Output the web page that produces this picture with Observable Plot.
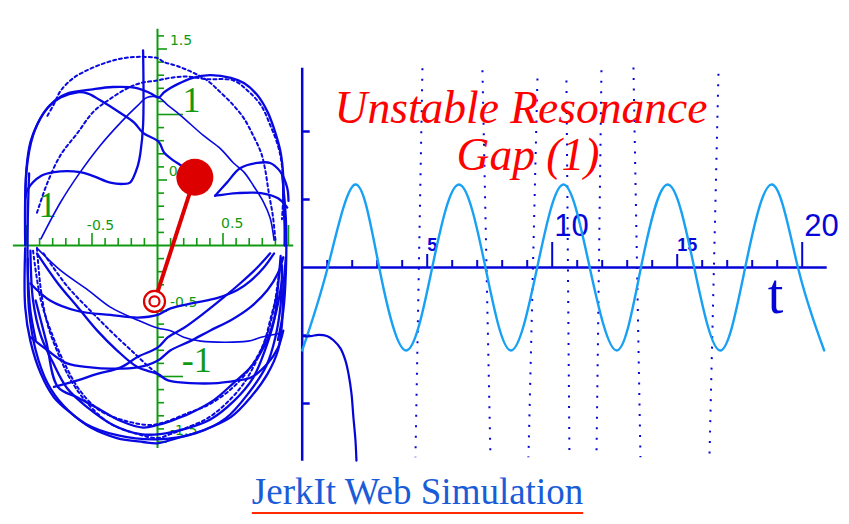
<!DOCTYPE html>
<html>
<head>
<meta charset="utf-8">
<script src="https://cdn.jsdelivr.net/npm/d3@7"></script>
<script src="https://cdn.jsdelivr.net/npm/@observablehq/plot@0.6"></script>
<style>
  html, body { margin: 0; padding: 0; background: #fff; }
  #wrap { position: relative; width: 849px; height: 524px; overflow: hidden; background: #fff; }
  #swing { position: absolute; left: 0; top: 0; }
  #trace { position: absolute; left: 290px; top: 0; }
  .title {
    position: absolute; white-space: nowrap; transform: translateX(-50%);
    font-family: "Liberation Serif", "Times New Roman", serif; font-style: italic;
    font-size: 45.5px; line-height: 45.5px; color: #f00;
  }
  .caption {
    position: absolute; left: 0; width: 835px; top: 473px; text-align: center;
    font-family: "Liberation Serif", "Times New Roman", serif;
    font-size: 37px; line-height: 37px; color: #1a5cd8;
    text-decoration: underline; text-decoration-color: #ff2a00;
    text-decoration-thickness: 2px; text-underline-offset: 8px;
  }
</style>
</head>
<body>
<div id="wrap">
  <div id="swing"></div>
  <div id="trace"></div>
  <div class="title" style="left:521px; top:85px;">Unstable Resonance</div>
  <div class="title" style="left:528px; top:132px;">Gap (1)</div>
  <div class="caption">JerkIt Web Simulation</div>
</div>
<script>
// ---------- Bob path in the pivot frame (units of rod length) ----------
const arcToBob = [[-1.01,0.04],[-1.00,0.59],[-0.97,0.79],[-0.92,0.92],[-0.84,1.05],[-0.74,1.13],[-0.61,1.17],[-0.53,1.16],[-0.44,1.11],[-0.28,1.01],[-0.18,0.94],[-0.11,0.86],[0.01,0.79],[0.05,0.71],[0.12,0.65],[0.18,0.61],[0.28,0.52]];
const topArc = [[-1.01,0.0],[-1.00,0.57],[-0.95,0.84],[-0.87,1.01],[-0.78,1.11],[-0.69,1.16],[-0.51,1.19],[-0.34,1.21],[-0.15,1.20],[-0.05,1.16],[0.01,1.13],[0.05,1.17],[0.15,1.23],[0.27,1.28],[0.40,1.30],[0.56,1.28],[0.66,1.24],[0.76,1.15],[0.84,1.02],[0.90,0.86],[0.94,0.71],[0.96,0.53],[0.96,0.36],[0.97,0.15],[0.97,0.0]];
const highArc = [[-0.84,0.99],[-0.79,1.08],[-0.74,1.18],[-0.64,1.28],[-0.51,1.35],[-0.38,1.40],[-0.26,1.43],[-0.13,1.44],[0.0,1.43],[0.05,1.40],[0.15,1.37],[0.27,1.32],[0.38,1.26],[0.48,1.17],[0.58,1.07],[0.66,0.97],[0.73,0.84],[0.79,0.71],[0.82,0.59],[0.85,0.40],[0.88,0.23],[0.90,0.04]];
const innerArc = [[-0.92,0.25],[-0.84,0.48],[-0.74,0.69],[-0.61,0.86],[-0.49,1.02],[-0.36,1.12],[-0.23,1.20],[-0.13,1.24],[0.0,1.26],[0.10,1.28],[0.23,1.29],[0.37,1.27],[0.58,1.26],[0.69,1.18],[0.79,1.07],[0.86,0.92],[0.92,0.76],[0.95,0.61],[0.96,0.40],[0.95,0.20]];
const crossArc = [[-0.89,0.05],[-0.74,0.33],[-0.59,0.56],[-0.44,0.76],[-0.28,0.94],[-0.15,1.07],[-0.08,1.13],[0.01,1.13],[0.08,1.07],[0.18,0.99],[0.35,0.84],[0.48,0.74],[0.58,0.63],[0.66,0.56],[0.73,0.46],[0.81,0.33],[0.86,0.21],[0.89,0.04]];
const hookDrop = [[-0.11,1.49],[-0.11,0.92],[-0.13,0.71],[-0.15,0.61],[-0.21,0.48],[-0.26,0.47],[-0.36,0.48],[-0.49,0.53],[-0.59,0.56],[-0.79,0.56],[-0.89,0.53],[-0.99,0.43],[-1.01,0.36]];
const loopUpper = [[0.44,0.38],[0.53,0.48],[0.63,0.59],[0.76,0.63],[0.86,0.63],[0.94,0.56],[0.99,0.44],[1.0,0.34]];
const loopLower = [[0.44,0.38],[0.61,0.40],[0.79,0.40],[0.92,0.36],[0.99,0.29]];
const leftEdge = [[-0.98,0.55],[-0.99,0.20],[-0.99,-0.20],[-0.97,-0.50],[-0.93,-0.72]];
const rightEdge = [[0.95,0.55],[0.98,0.20],[0.98,-0.20],[0.96,-0.50],[0.92,-0.72]];
const bowlOuter = [[-1.01,-0.02],[-1.01,-0.47],[-0.97,-0.73],[-0.89,-0.98],[-0.79,-1.16],[-0.66,-1.28],[-0.51,-1.39],[-0.31,-1.47],[-0.11,-1.50],[0.0,-1.51],[0.15,-1.47],[0.35,-1.41],[0.56,-1.31],[0.71,-1.16],[0.84,-0.98],[0.92,-0.80],[0.95,-0.60],[0.96,-0.34],[0.98,-0.09]];
const bowlEdge = [[-0.99,-0.10],[-0.98,-0.50],[-0.93,-0.80],[-0.84,-1.05],[-0.72,-1.22],[-0.55,-1.36],[-0.30,-1.45],[0.0,-1.48],[0.30,-1.43],[0.52,-1.32],[0.70,-1.12],[0.83,-0.92],[0.90,-0.70],[0.94,-0.45],[0.95,-0.15]];
const bowlDotted = [[-0.92,-0.02],[-0.89,-0.34],[-0.84,-0.60],[-0.76,-0.82],[-0.66,-1.03],[-0.53,-1.21],[-0.36,-1.36],[-0.15,-1.44],[0.0,-1.47],[0.10,-1.44],[0.20,-1.40],[0.38,-1.32],[0.53,-1.20],[0.66,-1.05],[0.76,-0.87],[0.84,-0.67],[0.89,-0.47],[0.92,-0.27],[0.95,-0.09]];
const bowlInner = [[-0.97,-0.04],[-0.95,-0.42],[-0.89,-0.69],[-0.80,-0.89],[-0.69,-1.09],[-0.53,-1.24],[-0.34,-1.37],[-0.13,-1.44],[0.02,-1.44],[0.21,-1.40],[0.40,-1.33],[0.58,-1.19],[0.73,-1.01],[0.82,-0.80],[0.89,-0.57],[0.92,-0.31],[0.94,-0.08]];
const bowlMid = [[-0.93,-0.42],[-0.85,-0.73],[-0.76,-1.08],[-0.61,-1.16],[-0.46,-1.24],[-0.28,-1.34],[-0.11,-1.39],[0.0,-1.37],[0.10,-1.34],[0.25,-1.28],[0.43,-1.18],[0.58,-1.05],[0.71,-0.93],[0.82,-0.76],[0.90,-0.53],[0.95,-0.27]];
const bowlDotted2 = [[-0.95,-0.04],[-0.89,-0.42],[-0.80,-0.69],[-0.70,-0.92],[-0.59,-1.11],[-0.44,-1.26],[-0.24,-1.34],[-0.05,-1.37],[0.05,-1.35],[0.23,-1.28],[0.40,-1.21],[0.58,-1.08],[0.71,-0.93],[0.81,-0.75],[0.86,-0.57],[0.92,-0.34]];
const sweepA = [[-0.92,-0.02],[-0.74,-0.19],[-0.53,-0.34],[-0.36,-0.47],[-0.15,-0.57],[0.0,-0.63],[0.10,-0.65],[0.20,-0.70],[0.33,-0.73],[0.69,-0.73],[0.79,-0.70],[0.94,-0.67]];
const sweepB = [[-0.97,-0.29],[-0.82,-0.42],[-0.61,-0.50],[-0.36,-0.53],[-0.15,-0.55],[0.0,-0.53],[0.10,-0.48],[0.27,-0.44],[0.46,-0.40],[0.61,-0.34],[0.71,-0.27],[0.81,-0.17],[0.89,-0.06]];
const sweepC = [[-0.92,-0.06],[-0.76,-0.29],[-0.61,-0.47],[-0.46,-0.65],[-0.31,-0.80],[-0.15,-0.93],[0.0,-0.98],[0.08,-1.03],[0.25,-1.05],[0.46,-1.05],[0.61,-1.03],[0.71,-1.01],[0.84,-0.90],[0.92,-0.78],[0.96,-0.65]];
const sweepD = [[-0.97,-0.70],[-0.84,-0.80],[-0.69,-0.90],[-0.51,-0.93],[-0.36,-0.94],[-0.15,-0.93],[0.0,-0.88],[0.10,-0.80],[0.25,-0.73],[0.40,-0.65],[0.56,-0.57],[0.71,-0.47],[0.84,-0.34],[0.92,-0.21],[0.96,-0.09]];
const sweepE = [[-0.79,-1.08],[-0.61,-1.03],[-0.46,-0.98],[-0.28,-0.93],[-0.15,-0.85],[0.0,-0.78],[0.08,-0.70],[0.20,-0.63],[0.35,-0.52],[0.50,-0.40],[0.63,-0.29],[0.76,-0.17],[0.86,-0.06]];
const sweepF = [[-0.87,-0.06],[-0.69,-0.31],[-0.51,-0.50],[-0.34,-0.67],[-0.18,-0.82],[-0.05,-0.94],[0.02,-0.99]];

const solidTraces = [arcToBob, topArc, hookDrop, loopUpper, loopLower, leftEdge, rightEdge, bowlOuter, bowlEdge, bowlInner, bowlMid, sweepB, sweepC, sweepD, sweepE];
const thinTraces = [crossArc, sweepA];
const dottedTraces = [highArc, innerArc, bowlDotted, bowlDotted2, sweepF];

// Pendulum at the final instant
const pivot = {x: -0.023, y: -0.427};
const bob = {x: 0.285, y: 0.521};

// Green axis ticks and labels
const swingTicksX = [-1.0,-0.9,-0.8,-0.7,-0.6,-0.5,-0.4,-0.3,-0.2,-0.1,0.1,0.2,0.3,0.4,0.5,0.6,0.7,0.8,0.9,1.0];
const swingTicksY = [-1.5,-1.4,-1.3,-1.2,-1.1,-1.0,-0.9,-0.8,-0.7,-0.6,-0.5,-0.4,-0.3,-0.2,-0.1,0.1,0.2,0.3,0.4,0.5,0.6,0.7,0.8,0.9,1.0,1.1,1.2,1.3,1.4,1.5,1.6];
const smallLabelText = ["1.5", "0", "-0.5", "-1.5", "-0.5", "0.5"];
const smallLabelX = [0.18, 0.12, 0.20, 0.20, -0.435, 0.57];
const smallLabelY = [1.565, 0.565, -0.435, -1.41, 0.153, 0.168];
const bigLabelText = ["1", "-1", "1"];
const bigLabelX = [0.26, 0.30, -0.84];
const bigLabelY = [1.11, -0.88, 0.305];

// ---------- Time traces ----------
const swingT = [0, 1.02, 2.12, 3.08, 4.16, 5.2, 6.27, 7.33, 8.35, 9.4, 10.45, 11.5, 12.58, 13.55, 14.62, 15.68, 16.72, 17.72, 18.8, 19.83, 20.88];
const swingV = [-1.22, 0, 1.22, 0, -1.22, 0, 1.22, 0, -1.22, 0, 1.22, 0, -1.22, 0, 1.22, 0, -1.22, 0, 1.22, 0, -1.22];
const driftT = [0, 0.33, 0.65, 1.01, 1.25, 1.53, 1.73, 1.85, 1.97, 2.05, 2.13, 2.17];
const driftV = [-1.01, -1.01, -0.99, -1.01, -1.07, -1.19, -1.37, -1.56, -1.85, -2.21, -2.54, -2.84];
// Dotted event markers: top and bottom ends
const markerT1 = [4.81, 7.21, 9.41, 10.57, 11.97, 13.25, 16.65];
const markerV1 = [2.93, 2.90, 2.78, 2.75, 2.90, 2.94, 2.85];
const markerT2 = [4.53, 7.53, 9.05, 10.69, 11.77, 13.53, 16.29];
const markerV2 = [-2.79, -2.79, -2.79, -2.79, -2.79, -2.79, -2.79];
const timeTicks = [1,2,3,4,5,6,7,8,9,10,11,12,13,14,15,16,17,18,19,20];
const valueTicks = [2, 1, -1, -2];
const timeLabelsSmall = [5, 15];
const timeLabelsBig = [10, 20];

const GREEN = "#119a11";
const BLUE = "#0808e2";
const AXBLUE = "#0505d8";
const RED = "#dd0000";

// ---------- Left panel ----------
const sx = [-157 / 131, 143 / 131];
const sy = [-215 / 131, 245 / 131];
const unit = 131; // pixels per rod length
const hTick = v => (Math.abs(Math.abs(v) - 1) < 1e-9 ? 20 : Math.abs(Math.abs(v) - 0.5) < 1e-9 ? 12 : 7) / unit;
const vTick = v => (Math.abs(Math.abs(v) - 1) < 1e-9 ? 26 : Math.abs(v * 2 - Math.round(v * 2)) < 1e-9 ? 10 : 7) / unit;

const traceMarks = (list, opts) => list.map(pts => Plot.line(pts, {curve: "catmull-rom", stroke: BLUE, ...opts}));

const swingPlot = Plot.plot({
  width: 300, height: 460,
  marginTop: 0, marginRight: 0, marginBottom: 0, marginLeft: 0,
  x: {domain: sx, axis: null},
  y: {domain: sy, axis: null},
  style: {background: "transparent", overflow: "visible"},
  marks: [
    Plot.ruleY([0], {x1: -1.1, x2: 1.04, stroke: GREEN, strokeWidth: 2}),
    Plot.ruleX([0], {y1: -1.55, y2: 1.65, stroke: GREEN, strokeWidth: 2}),
    Plot.ruleX(swingTicksX, {x: d => d, y1: 0, y2: d => hTick(d), stroke: GREEN, strokeWidth: 1.6}),
    Plot.ruleY(swingTicksY, {y: d => d, x1: 0, x2: d => vTick(d), stroke: GREEN, strokeWidth: 1.6}),
    Plot.text(smallLabelText, {x: (d, i) => smallLabelX[i], y: (d, i) => smallLabelY[i], text: d => d,
      fill: GREEN, fontSize: 14, fontFamily: "DejaVu Sans, sans-serif"}),
    Plot.text(bigLabelText, {x: (d, i) => bigLabelX[i], y: (d, i) => bigLabelY[i], text: d => d,
      fill: GREEN, fontSize: 36, fontFamily: "Liberation Serif, Times New Roman, serif"}),
    ...traceMarks(dottedTraces, {strokeWidth: 2, strokeDasharray: "3,3"}),
    ...traceMarks(thinTraces, {strokeWidth: 1.6}),
    ...traceMarks(solidTraces, {strokeWidth: 2.3}),
    Plot.link([{pivot, bob}], {x1: d => d.pivot.x, y1: d => d.pivot.y, x2: d => d.bob.x, y2: d => d.bob.y,
      stroke: RED, strokeWidth: 4}),
    Plot.dot([bob], {x: "x", y: "y", r: 18.5, fill: RED}),
    Plot.dot([pivot], {x: "x", y: "y", r: 10.5, fill: "white", stroke: RED, strokeWidth: 2.2}),
    Plot.dot([pivot], {x: "x", y: "y", r: 5, fill: "none", stroke: RED, strokeWidth: 2.2})
  ]
});
document.getElementById("swing").append(swingPlot);

// ---------- Right panel ----------
const tx = [(290 - 301.7) / 25, (849 - 301.7) / 25];
const vy = [(267 - 470) / 68, 267 / 68];
const vUnit = 68, tUnit = 25;
const tTickLen = t => (t % 10 === 0 ? 25 : t % 5 === 0 ? 13 : 7) / vUnit;

const swingSeries = swingT.map((t, i) => ({t, v: swingV[i]}));
const driftSeries = driftT.map((t, i) => ({t, v: driftV[i]}));
const markers = markerT1.map((t, i) => ({t1: t, v1: markerV1[i], t2: markerT2[i], v2: markerV2[i]}));

const tracePlot = Plot.plot({
  width: 559, height: 470,
  marginTop: 0, marginRight: 0, marginBottom: 0, marginLeft: 0,
  x: {domain: tx, axis: null},
  y: {domain: vy, axis: null},
  style: {background: "transparent", overflow: "visible"},
  marks: [
    Plot.link(markers, {x1: "t1", y1: "v1", x2: "t2", y2: "v2", stroke: AXBLUE, strokeWidth: 2, strokeDasharray: "2,8.5"}),
    Plot.ruleX([0], {y1: -2.85, y2: 2.93, stroke: AXBLUE, strokeWidth: 2.5}),
    Plot.ruleY([0], {x1: 0, x2: 21.0, stroke: AXBLUE, strokeWidth: 2.5}),
    Plot.ruleX(timeTicks, {x: d => d, y1: 0, y2: d => tTickLen(d), stroke: AXBLUE, strokeWidth: 2}),
    Plot.ruleY(valueTicks, {y: d => d, x1: 0, x2: 8 / tUnit, stroke: AXBLUE, strokeWidth: 2.5}),
    Plot.text(timeLabelsSmall, {x: d => d, y: 0, text: d => String(d), textAnchor: "start", dy: -22,
      fill: AXBLUE, fontSize: 18, fontWeight: "bold", fontFamily: "Liberation Sans, Arial, sans-serif"}),
    Plot.text(timeLabelsBig, {x: d => d, y: 0, text: d => String(d), textAnchor: "start", dx: 2, dy: -41,
      fill: AXBLUE, fontSize: 31, fontFamily: "Liberation Sans, Arial, sans-serif"}),
    Plot.text(["t"], {x: 18.93, y: -0.41, text: d => d, fill: AXBLUE, fontSize: 56,
      fontFamily: "Liberation Serif, Times New Roman, serif"}),
    Plot.line(swingSeries, {x: "t", y: "v", curve: "natural", stroke: "#18a0f5", strokeWidth: 2.4}),
    Plot.line(driftSeries, {x: "t", y: "v", curve: "catmull-rom", stroke: AXBLUE, strokeWidth: 2.2})
  ]
});
document.getElementById("trace").append(tracePlot);
</script>
</body>
</html>
